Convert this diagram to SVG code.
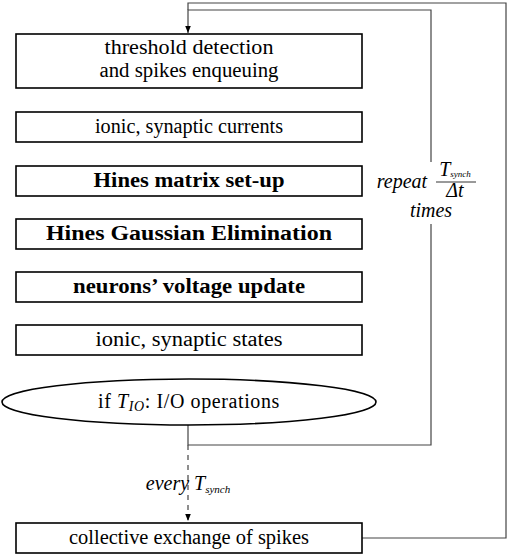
<svg xmlns="http://www.w3.org/2000/svg" width="510" height="557" viewBox="0 0 510 557">
<defs>
<style>
.box{fill:#fff;stroke:#000;stroke-width:1.6}
.t{font-family:'Liberation Serif','Times New Roman','DejaVu Serif',serif;font-size:20px;fill:#000;text-anchor:middle}
.b{font-weight:bold}
.i{font-style:italic}
.ln{fill:none;stroke:#444;stroke-width:1.2}
</style>
<marker id="ah" viewBox="0 0 10 10" refX="10" refY="5" markerWidth="7" markerHeight="7" orient="auto" markerUnits="userSpaceOnUse"><path d="M0,1 L10,5 L0,9 Z" fill="#000"/></marker>
</defs>
<g id="connectors">
<path class="ln" d="M188,425 V445 H431 V224 M431,162 V10 H188 V33" marker-end="url(#ah)"/>
<path class="ln" d="M362,538 H506 V3 H188 V10"/>
<path class="ln" d="M188,445 V521" stroke-dasharray="5,5" marker-end="url(#ah)"/>
<text class="t i" x="188" y="490" font-size="16" font-family="'Liberation Serif',serif">every <tspan>T</tspan><tspan font-size="11" dy="3">synch</tspan></text>
<text class="t i" x="402" y="188" font-size="17" font-family="'Liberation Serif',serif">repeat</text>
<text class="t i" x="455" y="176" font-size="12" font-family="'Liberation Serif',serif">T<tspan font-size="9" dy="1">synch</tspan></text>
<line x1="436" y1="182" x2="476" y2="182" stroke="#000" stroke-width="0.8"/>
<text class="t i" x="455" y="197" font-size="12" font-family="'Liberation Serif',serif">Δt</text>
<text class="t i" x="431" y="217" font-size="17" font-family="'Liberation Serif',serif">times</text>
</g>
<g id="n1"><rect class="box" x="16" y="34" width="346" height="54"/><text class="t" x="189" y="54" textLength="169" lengthAdjust="spacingAndGlyphs" font-family="'Liberation Serif',serif">threshold detection</text><text class="t" x="189" y="77" textLength="179" lengthAdjust="spacingAndGlyphs" font-family="'Liberation Serif',serif">and spikes enqueuing</text></g>
<g id="n2"><rect class="box" x="16" y="112" width="346" height="30"/><text class="t" x="189" y="133" textLength="188" lengthAdjust="spacingAndGlyphs" font-family="'Liberation Serif',serif">ionic, synaptic currents</text></g>
<g id="n3"><rect class="box" x="16" y="166" width="346" height="30"/><text class="t b" x="189" y="187" textLength="191" lengthAdjust="spacingAndGlyphs" font-family="'Liberation Serif',serif">Hines matrix set-up</text></g>
<g id="n4"><rect class="box" x="16" y="219" width="346" height="30"/><text class="t b" x="189" y="240" textLength="286" lengthAdjust="spacingAndGlyphs" font-family="'Liberation Serif',serif">Hines Gaussian Elimination</text></g>
<g id="n5"><rect class="box" x="16" y="272" width="346" height="30"/><text class="t b" x="189" y="293" textLength="232" lengthAdjust="spacingAndGlyphs" font-family="'Liberation Serif',serif">neurons’ voltage update</text></g>
<g id="n6"><rect class="box" x="16" y="325" width="346" height="30"/><text class="t" x="189" y="346" textLength="187" lengthAdjust="spacingAndGlyphs" font-family="'Liberation Serif',serif">ionic, synaptic states</text></g>
<g id="n7"><ellipse class="box" cx="189" cy="402" rx="187" ry="23"/><text class="t" x="189" y="408" font-size="21" letter-spacing="0.6" font-family="'Liberation Serif',serif">if <tspan class="i">T</tspan><tspan class="i" font-size="14" dy="3">IO</tspan><tspan dy="-3">: I/O operations</tspan></text></g>
<g id="n8"><rect class="box" x="16" y="523" width="346" height="30"/><text class="t" x="189" y="544" textLength="240" lengthAdjust="spacingAndGlyphs" font-family="'Liberation Serif',serif">collective exchange of spikes</text></g>
</svg>
